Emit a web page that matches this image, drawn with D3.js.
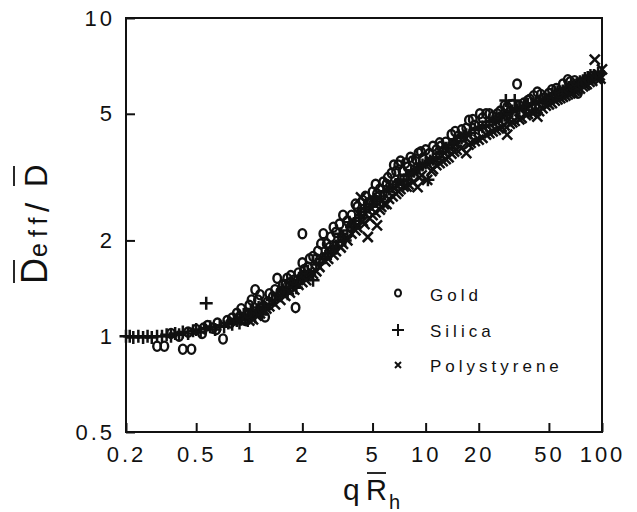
<!DOCTYPE html>
<html>
<head>
<meta charset="utf-8">
<script src="https://cdn.jsdelivr.net/npm/d3@7"></script>
<style>
  html, body { margin: 0; padding: 0; background: #fff; }
  svg { display: block; }
  text { font-family: "Liberation Sans", Arial, sans-serif; fill: #111; }
</style>
</head>
<body>
<div id="chart"></div>
<script>
// values (q*Rh, Deff/D)
const goldQ = [0.30, 0.33, 0.42, 0.47, 0.36, 0.40, 0.45, 0.50, 0.54, 0.58, 0.62, 0.66, 0.71, 0.75, 0.80, 0.85, 0.90, 0.95, 1.00, 1.05,
  1.08, 1.12, 1.18, 1.23, 1.30, 1.36, 1.44, 1.55, 1.64, 1.72, 1.83, 1.90, 2.00, 2.00, 2.15, 2.30, 2.45, 2.63, 2.75, 2.90,
  3.10, 3.40, 3.80, 4.10, 4.40, 4.70, 5.00, 5.30, 5.75, 6.10, 6.60, 7.00, 7.40, 7.90, 8.40, 9.10, 9.60, 10.5, 11.5, 12.2,
  13.0, 14.7, 16.0, 17.6, 19.0, 20.3, 22.0, 24.0, 26.5, 29.0, 33.0, 36.0, 39.0, 43.0, 47.0, 52.0, 57.0, 64.0, 68.0, 73.0,
  80.0, 88.0,
  0.55, 0.65, 0.78, 0.88, 0.98, 1.03, 1.15, 1.27, 1.40, 1.50, 1.60, 1.68, 1.78, 2.05, 2.20, 2.40, 2.55, 2.85, 3.00, 3.25,
  3.60, 4.00, 4.30, 4.55, 4.90, 5.20, 5.50, 6.00, 6.40, 6.80, 7.20, 7.70, 8.20, 8.80, 9.40, 10.0, 11.0, 12.0, 14.0, 15.3,
  17.0, 18.5, 21.0, 23.0, 25.5, 28.0, 31.0, 34.0, 38.0, 41.0, 45.0, 50.0, 55.0, 60.0, 66.0, 70.0, 77.0, 84.0];
const goldD = [0.93, 0.93, 0.91, 0.91, 1.02, 1.00, 1.03, 1.05, 1.02, 1.08, 1.06, 1.10, 0.98, 1.12, 1.14, 1.18, 1.22, 1.12, 1.25, 1.17,
  1.40, 1.30, 1.22, 1.15, 1.36, 1.33, 1.52, 1.45, 1.52, 1.55, 1.23, 1.58, 2.10, 1.70, 1.65, 1.78, 1.85, 2.10, 1.95, 2.05,
  2.12, 2.40, 2.40, 2.55, 2.67, 2.62, 2.84, 2.80, 3.05, 3.15, 3.45, 3.45, 3.30, 3.40, 3.55, 3.76, 3.62, 3.75, 3.85, 3.95,
  4.07, 4.40, 4.45, 4.77, 4.60, 5.00, 5.00, 4.90, 5.10, 5.25, 6.20, 5.40, 5.55, 5.85, 5.60, 5.95, 5.80, 6.40, 6.10, 5.80,
  6.30, 6.55,
  1.06, 1.05, 1.10, 1.15, 1.18, 1.30, 1.35, 1.28, 1.40, 1.38, 1.45, 1.47, 1.50, 1.62, 1.75, 1.75, 1.95, 1.90, 2.20, 2.25,
  2.30, 2.60, 2.45, 2.75, 2.65, 3.00, 2.90, 3.00, 3.25, 3.30, 3.55, 3.50, 3.65, 3.60, 3.80, 3.85, 3.95, 4.05, 4.30, 4.25,
  4.50, 4.80, 4.85, 5.00, 5.00, 5.30, 5.35, 5.30, 5.50, 5.70, 5.75, 5.80, 6.00, 6.20, 6.30, 6.35, 6.20, 6.40];

const silicaQ = [0.20, 0.21, 0.22, 0.235, 0.25, 0.265, 0.28, 0.30, 0.32, 0.34, 0.36, 0.38, 0.40, 0.42, 0.45, 0.48, 0.50, 0.53, 0.56, 0.57,
  0.60, 0.64, 0.68, 0.72, 0.76, 0.80, 0.85, 0.90, 0.95, 1.00, 1.05, 1.10, 1.15, 1.20, 1.30, 1.40, 1.50, 1.60, 1.70, 1.80,
  1.90, 2.00, 2.15, 2.30, 2.40, 2.60, 2.80, 2.90, 3.00, 3.20, 3.40, 3.60, 3.80, 4.00, 4.30, 4.60, 5.00, 5.30, 5.60, 6.00,
  6.50, 7.00, 7.50, 8.00, 8.60, 9.20, 10.0, 10.3, 11.0, 12.0, 13.0, 14.0, 15.0, 16.5, 18.0, 20.0, 22.0, 24.0, 26.0, 28.0,
  28.5, 30.0, 32.0, 34.0, 37.0, 40.0, 44.0, 48.0, 52.0, 56.0, 60.0, 65.0, 70.0, 75.0, 80.0, 86.0,
  0.82, 0.88, 0.93, 0.98, 1.02, 1.08, 1.13, 1.18, 1.25, 1.35, 1.45, 1.55, 1.65, 1.75, 1.85, 1.95, 2.05, 2.20, 2.50, 2.70,
  3.10, 3.30, 3.50, 3.70, 3.90, 4.20, 4.50, 4.80, 5.10, 5.50, 5.80, 6.20, 6.80, 7.20, 7.80, 8.30, 9.00, 9.60, 10.6, 11.5,
  12.5, 13.5, 14.5, 16.0, 17.0, 19.0, 21.0, 23.0, 25.0, 27.0, 29.0, 31.0, 33.0, 36.0, 38.0, 42.0, 46.0, 50.0, 54.0, 58.0,
  62.0, 67.0, 72.0, 78.0, 83.0, 90.0, 95.0];
const silicaD = [1.00, 1.00, 0.99, 1.00, 0.99, 1.00, 0.99, 1.00, 1.00, 1.01, 1.00, 1.02, 1.01, 1.03, 1.02, 1.04, 1.05, 1.03, 1.06, 1.27,
  1.07, 1.05, 1.08, 1.07, 1.10, 1.09, 1.12, 1.13, 1.15, 1.14, 1.18, 1.20, 1.19, 1.24, 1.26, 1.30, 1.34, 1.38, 1.42, 1.45,
  1.50, 1.52, 1.60, 1.50, 1.68, 1.75, 1.82, 1.82, 1.90, 1.98, 2.05, 2.15, 2.20, 2.30, 2.40, 2.50, 2.60, 2.65, 2.75, 2.85,
  2.95, 3.05, 3.10, 3.20, 3.30, 3.40, 3.50, 3.10, 3.60, 3.75, 3.90, 4.00, 4.10, 4.25, 4.35, 4.50, 4.60, 4.75, 4.85, 4.95,
  5.50, 5.05, 5.50, 5.20, 5.30, 5.35, 5.45, 5.55, 5.75, 5.85, 5.90, 6.05, 6.15, 6.30, 6.45, 6.60,
  1.13, 1.10, 1.17, 1.12, 1.20, 1.15, 1.23, 1.17, 1.22, 1.30, 1.35, 1.40, 1.36, 1.47, 1.42, 1.55, 1.58, 1.56, 1.70, 1.78,
  1.92, 2.10, 2.00, 2.28, 2.25, 2.35, 2.45, 2.55, 2.70, 2.70, 2.85, 2.90, 3.00, 3.10, 3.20, 3.25, 3.35, 3.45, 3.55, 3.65,
  3.80, 3.90, 4.05, 4.20, 4.30, 4.45, 4.55, 4.70, 4.80, 4.90, 5.00, 5.10, 5.15, 5.25, 5.35, 5.40, 5.50, 5.60, 5.80, 5.85,
  6.00, 6.10, 6.20, 6.35, 6.50, 6.60, 6.70];

const polyQ = [1.00, 1.10, 1.25, 1.40, 1.60, 1.80, 2.00, 2.20, 2.40, 2.70, 3.00, 3.30, 3.60, 4.00, 4.30, 4.50, 4.70, 5.00, 5.30, 5.60,
  6.00, 6.50, 7.00, 7.50, 8.00, 9.00, 9.50, 10.2, 11.0, 12.0, 13.0, 14.0, 15.0, 17.0, 18.0, 20.0, 22.0, 24.0, 26.0, 29.0,
  31.0, 34.0, 37.0, 40.0, 43.0, 46.0, 50.0, 54.0, 58.0, 62.0, 66.0, 70.0, 75.0, 80.0, 85.0, 91.0, 95.0, 98.0, 100,
  1.05, 1.15, 1.30, 1.50, 1.70, 1.90, 2.10, 2.30, 2.50, 2.80, 3.10, 3.40, 3.80, 4.10, 4.40, 4.80, 5.20, 5.50, 5.80, 6.20,
  6.80, 7.20, 7.80, 8.50, 9.20, 10.8, 11.5, 12.5, 13.5, 14.5, 16.0, 17.5, 19.0, 21.0, 23.0, 25.0, 27.0, 28.0, 30.0, 32.0,
  35.0, 38.0, 42.0, 44.0, 48.0, 52.0, 56.0, 60.0, 64.0, 68.0, 72.0, 78.0, 82.0, 88.0, 93.0, 97.0];
const polyD = [1.12, 1.16, 1.22, 1.26, 1.34, 1.40, 1.48, 1.55, 1.60, 1.72, 1.80, 1.90, 2.00, 2.15, 2.73, 2.25, 2.05, 2.40, 2.23, 2.55,
  2.60, 2.75, 2.85, 2.95, 3.00, 2.94, 3.20, 3.10, 3.35, 3.50, 3.60, 3.75, 3.85, 3.76, 4.05, 4.15, 4.30, 4.40, 4.50, 4.30,
  4.70, 4.80, 4.95, 5.05, 4.90, 5.20, 5.35, 5.50, 5.60, 5.70, 5.80, 5.90, 6.00, 6.15, 6.30, 7.40, 6.50, 6.45, 6.90,
  1.13, 1.18, 1.24, 1.30, 1.37, 1.45, 1.50, 1.57, 1.65, 1.75, 1.85, 1.95, 2.10, 2.20, 2.30, 2.35, 2.45, 2.50, 2.60, 2.70,
  2.80, 2.90, 2.95, 3.05, 3.15, 3.30, 3.45, 3.55, 3.65, 3.80, 3.90, 4.00, 4.10, 4.20, 4.35, 4.45, 4.55, 4.60, 4.65, 4.75,
  4.85, 5.00, 5.10, 5.10, 5.30, 5.40, 5.55, 5.65, 5.75, 5.85, 5.95, 6.10, 6.20, 6.35, 6.45, 6.60];

const xTicks = [0.2, 0.5, 1, 2, 5, 10, 20, 50, 100];
const yTicks = [0.5, 1, 2, 5, 10];
const legendLabels = ['Gold', 'Silica', 'Polystyrene'];

const W = 637, H = 512;
const plot = { left: 126, right: 602, top: 18, bottom: 432 };

const svg = d3.select('#chart').append('svg')
  .attr('width', W).attr('height', H);

const x = d3.scaleLog().domain([0.2, 100]).range([plot.left, plot.right]);
const y = d3.scaleLog().domain([0.5, 10]).range([plot.bottom, plot.top]);

// frame
svg.append('rect')
  .attr('x', plot.left).attr('y', plot.top)
  .attr('width', plot.right - plot.left).attr('height', plot.bottom - plot.top)
  .attr('fill', 'none').attr('stroke', '#111').attr('stroke-width', 2);

// bottom axis, ticks inward
const xAxis = svg.append('g')
  .attr('transform', `translate(0,${plot.bottom})`)
  .call(d3.axisBottom(x).tickValues(xTicks).tickSizeInner(-9).tickSizeOuter(0)
    .tickPadding(14).tickFormat(d3.format('~g')));
xAxis.select('.domain').remove();
xAxis.selectAll('line').attr('stroke', '#111').attr('stroke-width', 2);
xAxis.selectAll('text')
  .attr('font-size', 22).attr('letter-spacing', 3).attr('dy', '0.72em')
  .attr('fill', '#111');

// left axis, ticks inward
const yAxis = svg.append('g')
  .attr('transform', `translate(${plot.left},0)`)
  .call(d3.axisLeft(y).tickValues(yTicks).tickSizeInner(-9).tickSizeOuter(0)
    .tickPadding(11).tickFormat(d3.format('~g')));
yAxis.select('.domain').remove();
yAxis.selectAll('line').attr('stroke', '#111').attr('stroke-width', 2);
yAxis.selectAll('text')
  .attr('font-size', 22).attr('letter-spacing', 3).attr('fill', '#111');

// markers
const markers = svg.append('g');

function drawCircles(g, qs, ds) {
  g.selectAll(null).data(qs).join('ellipse')
    .attr('cx', (d, i) => x(qs[i]))
    .attr('cy', (d, i) => y(ds[i]))
    .attr('rx', 3.8).attr('ry', 4.6)
    .attr('fill', 'none').attr('stroke', '#111').attr('stroke-width', 2.4);
}
function drawPlus(g, qs, ds, s) {
  g.selectAll(null).data(qs).join('path')
    .attr('d', (d, i) => {
      const cx = x(qs[i]), cy = y(ds[i]);
      return `M${cx - s},${cy}H${cx + s}M${cx},${cy - s}V${cy + s}`;
    })
    .attr('stroke', '#111').attr('stroke-width', 2.5).attr('fill', 'none');
}
function drawCross(g, qs, ds, s) {
  g.selectAll(null).data(qs).join('path')
    .attr('d', (d, i) => {
      const cx = x(qs[i]), cy = y(ds[i]);
      return `M${cx - s},${cy - s}L${cx + s},${cy + s}M${cx - s},${cy + s}L${cx + s},${cy - s}`;
    })
    .attr('stroke', '#111').attr('stroke-width', 2.5).attr('fill', 'none');
}

drawPlus(markers.append('g'), silicaQ, silicaD, 6.5);
drawCross(markers.append('g'), polyQ, polyD, 5);
drawCircles(markers.append('g'), goldQ, goldD);

// legend
const legend = svg.append('g');
const legY = [294, 330, 365];
legend.append('ellipse').attr('cx', 398).attr('cy', legY[0] - 1)
  .attr('rx', 3).attr('ry', 3.6)
  .attr('fill', 'none').attr('stroke', '#111').attr('stroke-width', 2);
legend.append('path')
  .attr('d', `M392,${legY[1]}H404M398,${legY[1] - 6}V${legY[1] + 6}`)
  .attr('stroke', '#111').attr('stroke-width', 2);
legend.append('path')
  .attr('d', `M395,${legY[2] - 3}L401,${legY[2] + 3}M395,${legY[2] + 3}L401,${legY[2] - 3}`)
  .attr('stroke', '#111').attr('stroke-width', 2);
legend.selectAll('text').data(legendLabels).join('text')
  .attr('x', 430).attr('y', (d, i) => legY[i] + 7)
  .attr('font-size', 17).attr('letter-spacing', 4)
  .text(d => d);

// x axis title: q R(bar)_h
const xt = svg.append('g');
xt.append('text').attr('x', 343).attr('y', 500).attr('font-size', 30).text('q');
xt.append('text').attr('x', 366).attr('y', 500).attr('font-size', 29).text('R');
xt.append('text').attr('x', 389).attr('y', 509).attr('font-size', 20).text('h');
xt.append('line').attr('x1', 367).attr('x2', 386).attr('y1', 473).attr('y2', 473)
  .attr('stroke', '#111').attr('stroke-width', 1.8);

// y axis title: D(bar)_eff / D(bar), rotated
const yt = svg.append('g').attr('transform', 'translate(47,284) rotate(-90)');
yt.append('text').attr('x', 0).attr('y', 0).attr('font-size', 36).text('D');
yt.append('text').attr('x', 27).attr('y', 0).attr('font-size', 25).attr('letter-spacing', 6).text('eff');
yt.append('text').attr('x', 72).attr('y', 2).attr('font-size', 33).text('/');
yt.append('text').attr('x', 97).attr('y', 0).attr('font-size', 31).text('D');
yt.append('line').attr('x1', 1).attr('x2', 24).attr('y1', -33).attr('y2', -33)
  .attr('stroke', '#111').attr('stroke-width', 1.8);
yt.append('line').attr('x1', 98).attr('x2', 118).attr('y1', -33).attr('y2', -33)
  .attr('stroke', '#111').attr('stroke-width', 1.8);
</script>
</body>
</html>
